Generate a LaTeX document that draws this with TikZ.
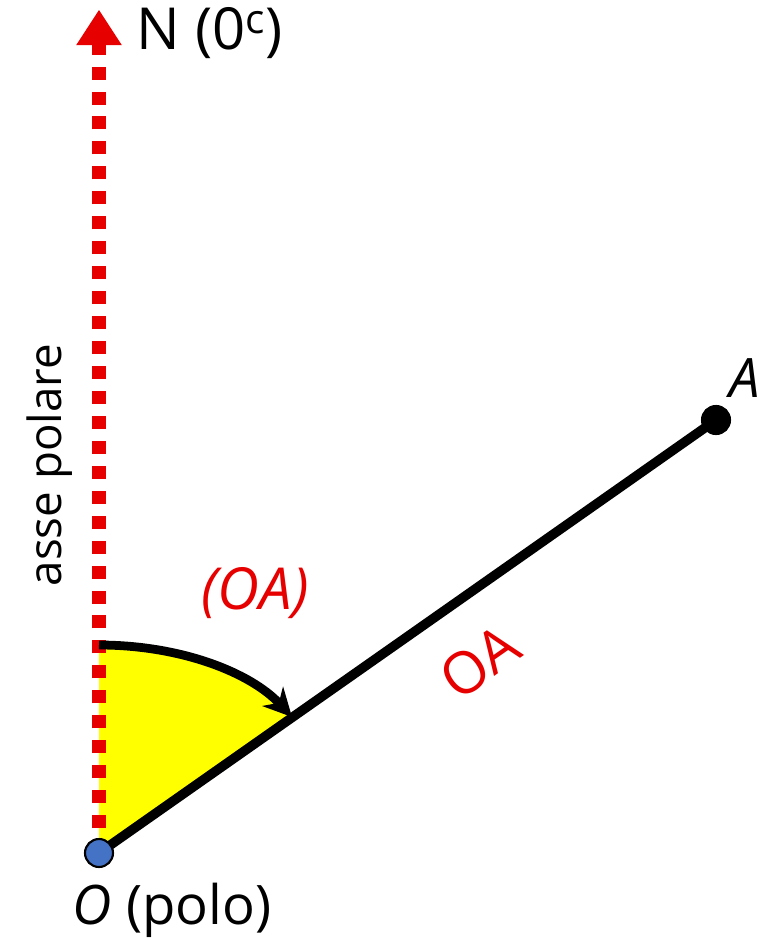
\documentclass[tikz,border=0pt]{standalone}
\usepackage{fontspec}
\setmainfont{Open Sans}
\usetikzlibrary{arrows.meta}
\definecolor{axisred}{HTML}{E60000}
\definecolor{sectoryellow}{HTML}{FFFF00}
\definecolor{poleblue}{HTML}{4472C4}

\begin{document}
\begin{tikzpicture}[
  x=0.02cm, y=-0.02cm,
  >=Stealth,
  lbl/.style={font=\fontsize{31}{37}\selectfont, inner sep=0pt},
  redlbl/.style={lbl, text=axisred, font=\fontsize{33}{39}\selectfont},
  axis/.style={draw=axisred, line width=8pt, dash pattern=on 7.4pt off 6.8pt,
    -{Triangle[length=20pt, width=26pt, line width=0pt]}},
  ray/.style={draw=black, line width=5.4pt},
  sweep/.style={draw=black, line width=5pt, -{Stealth[length=16pt, width=16pt, inset=5pt]}},
  dot/.style={circle, draw=black, line width=1.2pt, minimum size=0.56cm, inner sep=0pt}
]
  \useasboundingbox (0,0) rectangle (773,940);
  \coordinate (O) at (99,853);
  \coordinate (A) at (716,420);
  \coordinate (north) at (99,10);
  \coordinate (arcstart) at (99,645);
  \coordinate (arcend) at (292,717);

  % angle sector
  \fill[sectoryellow] (O) -- (arcstart) .. controls (180,645) and (250,672) .. (arcend) -- cycle;
  \draw[axis] (O) -- (north);
  \draw[ray] (O) -- (A);
  \draw[sweep] (arcstart) .. controls (180,645) and (250,672) .. (arcend);

  \node[dot, fill=poleblue] (pole) at (O) {};
  \node[dot, fill=black] (point) at (A) {};

  % labels
  \node[lbl, anchor=west, font=\fontsize{33}{39}\selectfont] (northtext) at (136,33) {N (0\textsuperscript{c})};
  \node[lbl, rotate=90, font=\fontsize{26}{32}\selectfont] (axistext) at (50,465) {asse polare};
  \node[redlbl] (angletext) at (255,593) {\itshape (OA)};
  \node[redlbl, rotate=35] (lengthtext) at (480,662) {OA};
  \node[lbl] (pointtext) at (745,378) {\itshape A};
  \node[lbl] (poletext) at (172,910) {\textit{O} (polo)};
\end{tikzpicture}
\end{document}
